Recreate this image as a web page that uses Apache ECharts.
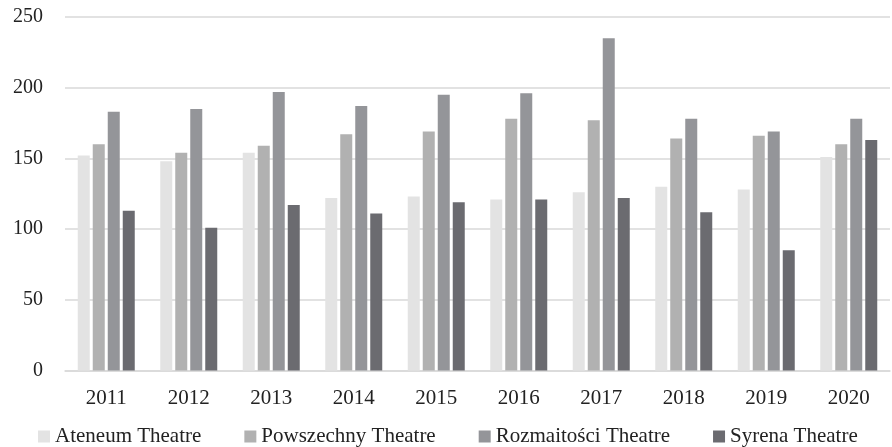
<!DOCTYPE html>
<html>
<head>
<meta charset="utf-8">
<script src="https://cdn.jsdelivr.net/npm/echarts@6/dist/echarts.min.js"></script>
<style>
  html, body { margin: 0; padding: 0; background: #fff; }
  #chart { width: 892px; height: 447px; }
</style>
</head>
<body>
<div id="chart"></div>
<script>
// Audience figures per theatre, 2011–2020
const years = ['2011', '2012', '2013', '2014', '2015', '2016', '2017', '2018', '2019', '2020'];
const ateneum     = [152, 148, 154, 122, 123, 121, 126, 130, 128, 151];
const powszechny  = [160, 154, 159, 167, 169, 178, 177, 164, 166, 160];
const rozmaitosci = [183, 185, 197, 187, 195, 196, 235, 178, 169, 178];
const syrena      = [113, 101, 117, 111, 119, 121, 122, 112, 85, 163];

const seriesNames = ['Ateneum Theatre', 'Powszechny Theatre', 'Rozmaitości Theatre', 'Syrena Theatre'];
const seriesData = [ateneum, powszechny, rozmaitosci, syrena];
const seriesColors = ['#e3e3e3', '#b1b1b1', '#949599', '#6b6b70'];

const fontFamily = '"Liberation Serif", "Times New Roman", serif';

const chart = echarts.init(document.getElementById('chart'), null, { renderer: 'canvas' });

chart.setOption({
  animation: false,
  backgroundColor: '#ffffff',
  grid: { left: 65, right: 2, top: 17, bottom: 76.5, containLabel: false },
  legend: {
    left: 33,
    top: 421,
    itemWidth: 12,
    itemHeight: 12,
    itemGap: 43,
    icon: 'rect',
    textStyle: { fontFamily: fontFamily, fontSize: 21, color: '#222' },
    data: seriesNames
  },
  xAxis: {
    type: 'category',
    data: years,
    axisLine: { show: true, lineStyle: { color: '#d9d9d9', width: 1.5 } },
    axisTick: { show: false },
    axisLabel: { fontFamily: fontFamily, fontSize: 21, color: '#222', margin: 17 }
  },
  yAxis: {
    type: 'value',
    min: 0,
    max: 250,
    interval: 50,
    axisLine: { show: false },
    axisTick: { show: false },
    splitLine: { lineStyle: { color: '#d9d9d9', width: 1.5 } },
    axisLabel: { fontFamily: fontFamily, fontSize: 20, color: '#222', margin: 22 }
  },
  series: seriesNames.map((name, i) => ({
    name: name,
    type: 'bar',
    data: seriesData[i],
    barWidth: 12,
    barGap: '25%',
    itemStyle: { color: seriesColors[i] }
  }))
});
</script>
</body>
</html>
